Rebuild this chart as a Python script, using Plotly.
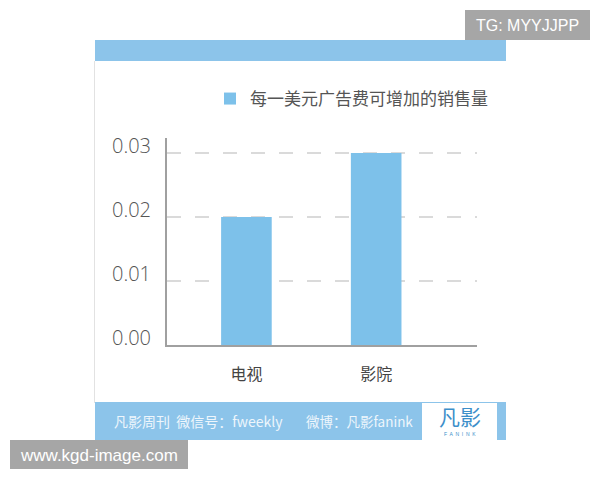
import plotly.graph_objects as go

categories = ["电视", "影院"]
values = [0.02, 0.03]
series_name = "每一美元广告费可增加的销售量"
y_ticks = [0.00, 0.01, 0.02, 0.03]
y_tick_labels = ["0.00", "0.01", "0.02", "0.03"]

W_PX, H_PX = 600, 480
OFF = 8  # page body margin
# plot area in page pixels
L, R, T, B = 167, 477, 138, 345
PW, PH = R - L, B - T


def px(x):
    return (x - L) / PW


def py(y):
    return (B - y) / PH


BAR = "#7dc1ea"
BAND = "#8cc4ea"
CJK = "Noto Sans CJK SC"

fig = go.Figure()
fig.add_trace(go.Bar(
    x=categories, y=values, name=series_name,
    marker=dict(color=BAR, line=dict(width=0)),
    width=0.39, showlegend=True,
))

shapes = []
shapes.append(dict(type="rect", xref="paper", yref="paper", x0=px(95), x1=px(506), y0=py(61), y1=py(40),
                   fillcolor=BAND, line=dict(width=0), layer="below"))
shapes.append(dict(type="line", xref="paper", yref="paper", x0=px(94.5), x1=px(94.5), y0=py(403), y1=py(61),
                   line=dict(color="#e2e2e2", width=1), layer="below"))
shapes.append(dict(type="rect", xref="paper", yref="paper", x0=px(95), x1=px(506), y0=py(440), y1=py(402),
                   fillcolor=BAND, line=dict(width=0), layer="below"))
shapes.append(dict(type="rect", xref="paper", yref="paper", x0=px(422), x1=px(497), y0=py(440), y1=py(403),
                   fillcolor="white", line=dict(width=0), layer="below"))
shapes.append(dict(type="rect", xref="paper", yref="paper", x0=px(465), x1=px(590), y0=py(40), y1=py(10),
                   fillcolor="#a6a6a6", line=dict(width=0), layer="above"))
shapes.append(dict(type="rect", xref="paper", yref="paper", x0=px(10), x1=px(188), y0=py(469), y1=py(440),
                   fillcolor="#a6a6a6", line=dict(width=0), layer="above"))

annotations = [
    dict(text="TG: MYYJJPP", x=px(527.5), y=py(25), xref="paper", yref="paper", showarrow=False,
         xanchor="center", yanchor="middle", font=dict(family="Liberation Sans, Arial", size=16, color="white")),
    dict(text="www.kgd-image.com", x=px(99), y=py(455), xref="paper", yref="paper", showarrow=False,
         xanchor="center", yanchor="middle", font=dict(family="Liberation Sans, Arial", size=17, color="white")),
    dict(text="凡影周刊  微信号：fweekly", x=px(112), y=py(421), xref="paper", yref="paper", showarrow=False,
         xanchor="left", yanchor="middle", font=dict(family=CJK, size=14, color="#eef6fc")),
    dict(text="微博：凡影fanink", x=px(304), y=py(421), xref="paper", yref="paper", showarrow=False,
         xanchor="left", yanchor="middle", font=dict(family=CJK, size=13.5, color="#eef6fc")),
    dict(text="凡影", x=px(460), y=py(416), xref="paper", yref="paper", showarrow=False,
         xanchor="center", yanchor="middle", font=dict(family=CJK, size=21, color="#3d8fca")),
    dict(text="F  A  N  I  N  K", x=px(460), y=py(434), xref="paper", yref="paper", showarrow=False,
         xanchor="center", yanchor="middle", font=dict(family="Liberation Sans, Arial", size=5, color="#3d8fca")),
]

fig.update_layout(
    width=W_PX, height=H_PX,
    margin=dict(l=L - OFF, r=W_PX - R + OFF, t=T - OFF, b=H_PX - B + OFF, pad=0),
    paper_bgcolor="white", plot_bgcolor="white",
    shapes=shapes, annotations=annotations,
    showlegend=True,
    legend=dict(x=px(210), y=py(81), xanchor="left", yanchor="top", orientation="h",
                font=dict(family=CJK, size=17, color="#555555"), bgcolor="rgba(0,0,0,0)"),
    xaxis=dict(
        type="category", range=[-0.612, 1.777], showgrid=False, zeroline=False,
        showline=True, linecolor="#a0a0a0", linewidth=2,
        ticks="", ticklabelstandoff=14,
        tickfont=dict(family=CJK, size=16, color="#444444"),
    ),
    yaxis=dict(
        range=[0, 0.03234], tickvals=y_ticks, ticktext=y_tick_labels,
        showgrid=True, gridcolor="#dadada", gridwidth=1.5, griddash="14px,14px",
        zeroline=False, showline=True, linecolor="#a0a0a0", linewidth=2,
        ticks="", ticklabelstandoff=10, ticklabelshift=-7,
        tickfont=dict(family="Open Sans, DejaVu Sans", size=20, color="#555555", weight=300),
    ),
)

fig.write_html("out.html")
